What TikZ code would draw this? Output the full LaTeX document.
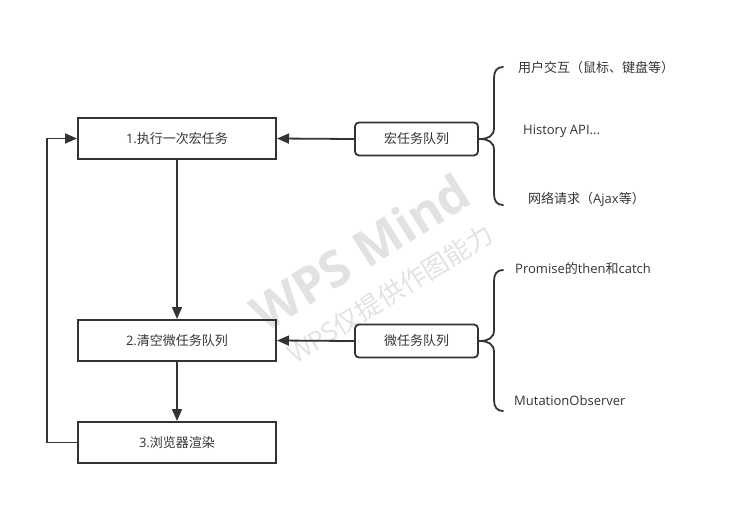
\documentclass[tikz,border=0pt]{standalone}
\usepackage{fontspec}
\setmainfont{Open Sans}
\newfontfamily\cjk{Noto Sans CJK SC}
\usetikzlibrary{arrows.meta}
\definecolor{ink}{HTML}{333333}
\definecolor{wm}{HTML}{E2E2E2}
\begin{document}
\begin{tikzpicture}[x=1pt,y=-1pt,
  every node/.style={font=\fontsize{13}{15}\selectfont, text=ink},
  stepbox/.style={draw=ink, line width=2pt, minimum width=198pt, minimum height=41pt, inner sep=0pt},
  queuebox/.style={draw=ink, line width=1.8pt, rounded corners=4pt, minimum width=123pt, minimum height=33pt, inner sep=0pt},
  conn/.style={draw=ink, line width=1.8pt, -{Triangle[length=12pt,width=10pt]}},
  brace/.style={draw=ink, line width=1.8pt, line cap=round},
  lbl/.style={anchor=west, inner sep=0pt}]
\useasboundingbox (0,0) rectangle (738,525);
% watermark
\node[rotate=32, font=\fontsize{50}{55}\bfseries\selectfont, text=wm] (wm1) at (360,252) {WPS Mind};
\node[rotate=32, font=\fontsize{26}{30}\selectfont, text=wm] (wm2) at (390,294) {WPS{\cjk 仅提供作图能力}};
% main steps
\node[stepbox] (s1) at (177,138.5) {1.{\cjk 执行一次宏任务}};
\node[stepbox] (s2) at (177,340.5) {2.{\cjk 清空微任务队列}};
\node[stepbox] (s3) at (177,442.5) {3.{\cjk 浏览器渲染}};
% queues
\node[queuebox, font=\cjk\fontsize{13}{15}\selectfont] (mq) at (416.5,139) {宏任务队列};
\node[queuebox, font=\cjk\fontsize{13}{15}\selectfont] (uq) at (416.5,341) {微任务队列};
% connectors
\draw[conn] (mq.west) -- (s1.east);
\draw[conn] (uq.west) -- (s2.east);
\draw[conn] (s1.south) -- (s2.north);
\draw[conn] (s2.south) -- (s3.north);
\coordinate (lb) at (47,442.5);
\coordinate (lt) at (47,138.5);
\draw[conn] (s3.west) -- (lb) -- (lt) -- (s1.west);
% macro brace
\coordinate (mt) at (480,139);
\draw[brace] (mq.east) -- (mt) .. controls (488,139) and (494,136) .. (494,128)
  -- (494,78) .. controls (494,71) and (497,67) .. (503,67);
\draw[brace] (mt) .. controls (488,139) and (494,142) .. (494,150)
  -- (494,194) .. controls (494,201) and (497,205) .. (503,205);
\node[lbl, font=\cjk\fontsize{13}{15}\selectfont] (m1) at (518,68) {用户交互（鼠标、键盘等）};
\node[lbl] (m2) at (523,131) {History API...};
\node[lbl] (m3) at (528,199) {{\cjk 网络请求（}Ajax{\cjk 等）}};
% micro brace
\coordinate (ut) at (480,341);
\draw[brace] (uq.east) -- (ut) .. controls (488,341) and (494,338) .. (494,330)
  -- (494,281) .. controls (494,274) and (497,270) .. (503,270);
\draw[brace] (ut) .. controls (488,341) and (494,344) .. (494,352)
  -- (494,400) .. controls (494,407) and (497,411) .. (503,411);
\node[lbl] (u1) at (515,269) {Promise{\cjk 的}then{\cjk 和}catch};
\node[lbl] (u2) at (514,401) {MutationObserver};
\end{tikzpicture}
\end{document}
